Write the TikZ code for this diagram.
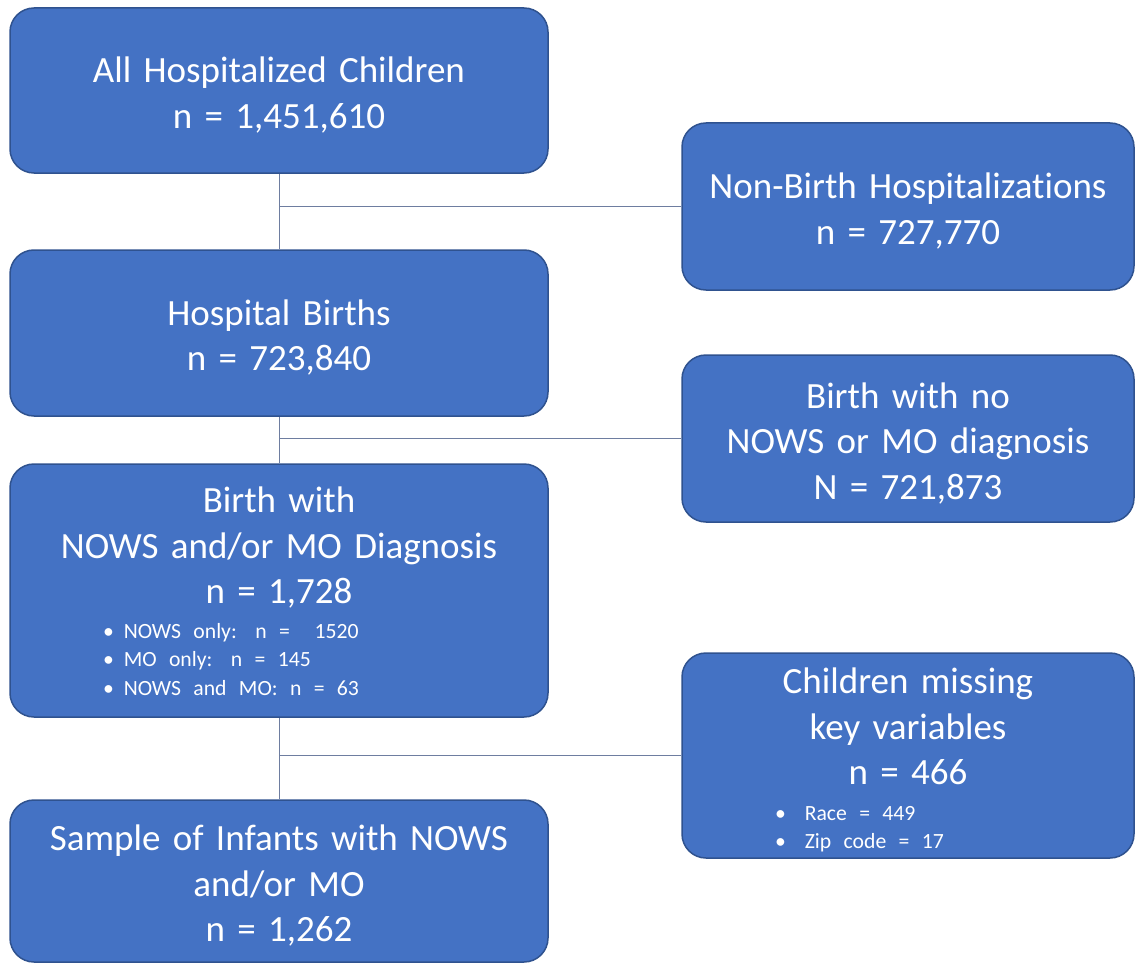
\documentclass[tikz,border=0pt]{standalone}
\usepackage{fontspec}
\setmainfont{Carlito}[WordSpace=0.6, Ligatures=NoCommon]
\usepackage{xcolor}
\usetikzlibrary{positioning}

\definecolor{boxblue}{HTML}{4472C4}
\definecolor{boxedge}{HTML}{2F528F}
\definecolor{linkgray}{RGB}{110,125,160}
\newcommand{\headsize}{\fontsize{37}{45.5}\selectfont}
\newcommand{\bulsize}{\fontsize{21.7}{28.5}\selectfont}
\newcommand{\bulitem}[2]{\makebox[\hsize][l]{\hspace*{93pt}\textbullet\hspace*{#1}#2}}

\begin{document}
\begin{tikzpicture}[x=1pt, y=-1pt,
    box/.style={rectangle, rounded corners=24pt, draw=boxedge, line width=1.5pt, fill=boxblue, text=white, inner sep=0pt, align=center, font=\headsize, execute at begin node={\rule{0pt}{35pt}}},
    wide/.style={box, minimum width=538pt, text width=538pt},
    narrow/.style={box, minimum width=452pt, text width=452pt},
    link/.style={draw=linkgray, line width=1pt}]
    \useasboundingbox (0,0) rectangle (1135,963);

    % left column
    \node[wide, minimum height=165pt] (allkids) at (279,90.5) {All Hospitalized Children\\n = 1,451,610};
    \node[wide, minimum height=166pt] (births) at (279,333) {Hospital Births\\n = 723,840};
    \node[wide, minimum height=253pt] (withdx) at (279,590.5) {Birth with\\NOWS and/or MO Diagnosis\\n = 1,728\par
        {\bulsize\vspace*{6pt}\bulitem{10pt}{NOWS only: n = \ 1520}\\\bulitem{10pt}{MO only: n = 145}\\\bulitem{10pt}{NOWS and MO: n = 63}\par}\vspace*{8pt}};
    \node[wide, minimum height=162pt] (sample) at (279,881) {Sample of Infants with NOWS\\and/or MO\\n = 1,262};

    % right column
    \node[narrow, minimum height=167pt] (nonbirth) at (908,206.5) {Non-Birth Hospitalizations\\n = 727,770};
    \node[narrow, minimum height=167pt] (nodx) at (908,438.5) {Birth with no\\NOWS or MO diagnosis\\N = 721,873};
    \node[narrow, minimum height=205pt] (missing) at (908,755.5) {Children missing\\key variables\\n = 466\par
        {\bulsize\vspace*{7pt}\bulitem{19pt}{Race = 449}\\\bulitem{19pt}{Zip code = 17}\par}};

    % connectors
    \draw[link] (allkids) -- (births);
    \draw[link] (allkids.south |- nonbirth.west) -- (nonbirth.west);
    \draw[link] (births) -- (withdx);
    \draw[link] (births.south |- nodx.west) -- (nodx.west);
    \draw[link] (withdx) -- (sample);
    \draw[link] (withdx.south |- missing.west) -- (missing.west);
\end{tikzpicture}
\end{document}
